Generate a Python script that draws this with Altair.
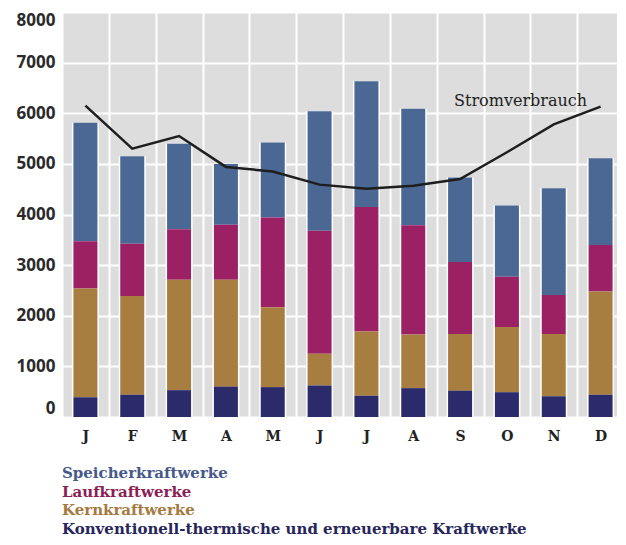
import altair as alt
import pandas as pd

months = ["Januar", "Februar", "März", "April", "Mai", "Juni", "Juli",
          "August", "September", "Oktober", "November", "Dezember"]
series = ["Speicherkraftwerke", "Laufkraftwerke", "Kernkraftwerke",
          "Konventionell-thermische und erneuerbare Kraftwerke"]
konv = [390, 440, 530, 600, 590, 620, 420, 570, 520, 490, 410, 440]
kern = [2150, 1950, 2180, 2110, 1580, 630, 1270, 1060, 1120, 1290, 1230, 2040]
lauf = [930, 1030, 1000, 1090, 1770, 2430, 2460, 2160, 1420, 990, 770, 920]
speicher = [2340, 1730, 1690, 1200, 1480, 2360, 2480, 2300, 1670, 1410, 2110, 1710]
verbrauch = [6150, 5300, 5550, 4940, 4850, 4590, 4510, 4570, 4700, 5230, 5780, 6130]
line_label = "Stromverbrauch"
label_month = "September"
label_value = 6250

bar_colors = ["#4a6893", "#9b2064", "#a87d40", "#2b2b6b"]
text_colors = ["#46598a", "#8c1e55", "#a47a3f", "#26265a"]

values = {series[0]: speicher, series[1]: lauf, series[2]: kern, series[3]: konv}
stack_order = {series[3]: 1, series[2]: 2, series[1]: 3, series[0]: 4}

rows = []
for s in series:
    for m, v in zip(months, values[s]):
        rows.append({"month": m, "series": s, "value": v, "order": stack_order[s]})
df = pd.DataFrame(rows)

tot = pd.DataFrame({"month": months,
                    "total": [a + b + c + d for a, b, c, d in zip(konv, kern, lauf, speicher)]})
line_df = pd.DataFrame({"month": months, "verbrauch": verbrauch})
lab_df = pd.DataFrame({"month": [label_month], "value": [label_value], "text": [line_label]})
leg_df = pd.DataFrame({"name": series, "col": text_colors})

x_scale = alt.Scale(domain=months, paddingInner=0, paddingOuter=0)
y_scale = alt.Scale(domain=[0, 8000])

x_axis = alt.Axis(title=None, labelExpr="substring(datum.label, 0, 1)", labelAngle=0,
                  domain=False, ticks=False, grid=True, tickBand="extent",
                  gridColor="white", gridWidth=2, gridOpacity=1,
                  labelFont="DejaVu Serif", labelFontWeight="bold", labelFontSize=14,
                  labelColor="#222222", labelPadding=12)
y_axis = alt.Axis(title=None, values=list(range(0, 8001, 1000)), format="d",
                  labelFlush=True,
                  domain=False, ticks=False, grid=True, gridColor="white", gridWidth=2,
                  gridOpacity=1, labelFont="Open Sans", labelFontWeight="bold",
                  labelFontSize=17, labelColor="#2a2a2a", labelPadding=7)

X = alt.X("month:N", sort=months, scale=x_scale, axis=x_axis)

back = alt.Chart(tot).mark_bar(size=27, color="white").encode(
    x=X,
    y=alt.Y("total:Q", scale=y_scale, axis=y_axis),
)

bars = alt.Chart(df).mark_bar(size=24).encode(
    x=X,
    y=alt.Y("value:Q", stack="zero", scale=y_scale, axis=y_axis),
    color=alt.Color("series:N", scale=alt.Scale(domain=series, range=bar_colors), legend=None),
    order=alt.Order("order:Q", sort="ascending"),
)

line = alt.Chart(line_df).mark_line(color="#1e1e1e", strokeWidth=2.5).encode(
    x=X,
    y=alt.Y("verbrauch:Q", scale=y_scale, axis=y_axis),
)

label = alt.Chart(lab_df).mark_text(align="left", baseline="middle", dx=-6,
                                    font="DejaVu Serif", fontSize=16,
                                    color="#222222").encode(
    x=X,
    y=alt.Y("value:Q", scale=y_scale, axis=y_axis),
    text="text:N",
)

main = alt.layer(back, bars, line, label).properties(
    width=562, height=405,
    view=alt.ViewBackground(fill="#dddddd", stroke=None),
)

legend = alt.Chart(leg_df).mark_text(align="left", baseline="middle",
                                     font="DejaVu Serif", fontSize=15,
                                     fontWeight="bold").encode(
    x=alt.value(0),
    y=alt.Y("name:N", sort=series, axis=None, scale=alt.Scale(padding=0.395)),
    text="name:N",
    color=alt.Color("col:N", scale=None, legend=None),
).properties(width=562, height=72, view=alt.ViewBackground(stroke=None))

chart = alt.vconcat(main, legend, spacing=22).resolve_scale(
    x="independent", y="independent", color="independent"
).properties(
    padding={"left": 8, "top": 3, "right": -7, "bottom": 0}
).configure_view(stroke=None)

chart.save("out.html", embed_options={"renderer": "svg", "actions": False})
